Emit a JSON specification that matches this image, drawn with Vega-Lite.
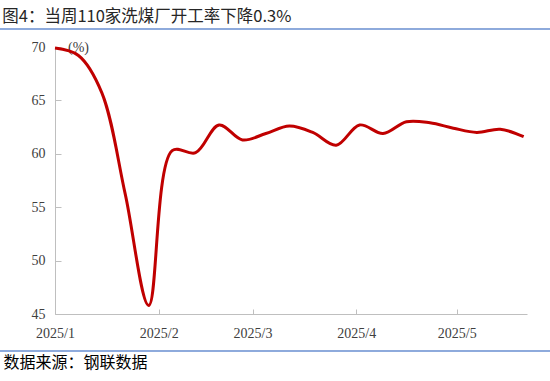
{
  "$schema": "https://vega.github.io/schema/vega-lite/v6.json",
  "width": 472,
  "height": 267,
  "autosize": {"type": "none"},
  "padding": {"left": 55, "top": 47, "right": 23, "bottom": 67},
  "background": "#ffffff",
  "title": {
    "text": "图4：当周110家洗煤厂开工率下降0.3%",
    "anchor": "start",
    "font": "Noto Sans CJK SC",
    "fontSize": 16.5,
    "fontWeight": "normal",
    "color": "#262626",
    "baseline": "middle",
    "offset": 0,
    "dx": 8,
    "dy": 5
  },
  "config": {
    "view": {"stroke": null},
    "axis": {"grid": false, "domainColor": "#bfbfbf", "tickColor": "#bfbfbf", "labelFont": "Liberation Serif", "labelFontSize": 14, "labelColor": "#404040"}
  },
  "data": {
    "values": [
      {"date": "2025-01-01T00:00:00", "rate": 69.9},
      {"date": "2025-01-08T00:00:00", "rate": 69.2},
      {"date": "2025-01-15T00:00:00", "rate": 65.7},
      {"date": "2025-01-22T00:00:00", "rate": 56.2},
      {"date": "2025-01-29T00:00:00", "rate": 45.8},
      {"date": "2025-02-05T00:00:00", "rate": 60.3},
      {"date": "2025-02-12T00:00:00", "rate": 60.1},
      {"date": "2025-02-19T00:00:00", "rate": 62.7},
      {"date": "2025-02-26T00:00:00", "rate": 61.3},
      {"date": "2025-03-05T00:00:00", "rate": 61.9},
      {"date": "2025-03-12T00:00:00", "rate": 62.6},
      {"date": "2025-03-19T00:00:00", "rate": 62.0},
      {"date": "2025-03-26T00:00:00", "rate": 60.8},
      {"date": "2025-04-02T00:00:00", "rate": 62.7},
      {"date": "2025-04-09T00:00:00", "rate": 61.9},
      {"date": "2025-04-16T00:00:00", "rate": 63.0},
      {"date": "2025-04-23T00:00:00", "rate": 62.9},
      {"date": "2025-04-30T00:00:00", "rate": 62.4},
      {"date": "2025-05-07T00:00:00", "rate": 62.0},
      {"date": "2025-05-14T00:00:00", "rate": 62.3},
      {"date": "2025-05-21T00:00:00", "rate": 61.6}
    ]
  },
  "layer": [
    {
      "mark": {"type": "line", "color": "#c00000", "strokeWidth": 3, "interpolate": "catmull-rom"},
      "encoding": {
        "x": {
          "field": "date",
          "type": "temporal",
          "scale": {"domain": [{"year": 2025, "month": 1, "date": 1}, {"year": 2025, "month": 5, "date": 22}]},
          "axis": {
            "values": [{"year": 2025, "month": 1, "date": 1}, {"year": 2025, "month": 2, "date": 1}, {"year": 2025, "month": 3, "date": 1}, {"year": 2025, "month": 4, "date": 1}, {"year": 2025, "month": 5, "date": 1}],
            "format": "%Y/%-m",
            "tickSize": -5,
            "labelPadding": 17,
            "labelFlush": false,
            "title": "数据来源：钢联数据",
            "titleFont": "Noto Sans CJK SC",
            "titleFontSize": 16,
            "titleFontWeight": "normal",
            "titleColor": "#000000",
            "titleX": -52,
            "titleY": 48,
            "titleAlign": "left",
            "titleBaseline": "middle"
          }
        },
        "y": {
          "field": "rate",
          "type": "quantitative",
          "scale": {"domain": [45, 70], "nice": false, "zero": false},
          "axis": {
            "values": [45, 50, 55, 60, 65, 70],
            "tickSize": -6,
            "labelPadding": 16,
            "title": "(%)",
            "titleFont": "Liberation Serif",
            "titleFontSize": 14,
            "titleFontWeight": "normal",
            "titleColor": "#404040",
            "titleAngle": 0,
            "titleX": 23,
            "titleY": 0,
            "titleAlign": "center",
            "titleBaseline": "middle"
          }
        }
      }
    },
    {
      "mark": {"type": "rule", "color": "#8eaadb", "strokeWidth": 1},
      "encoding": {
        "x": {"datum": {"year": 2024, "month": 12, "date": 14}, "type": "temporal"},
        "x2": {"datum": {"year": 2025, "month": 5, "date": 30}},
        "y": {"datum": 71.7, "type": "quantitative"}
      }
    },
    {
      "mark": {"type": "rule", "color": "#8eaadb", "strokeWidth": 1},
      "encoding": {
        "x": {"datum": {"year": 2024, "month": 12, "date": 14}, "type": "temporal"},
        "x2": {"datum": {"year": 2025, "month": 5, "date": 30}},
        "y": {"datum": 41.55, "type": "quantitative"}
      }
    }
  ]
}
